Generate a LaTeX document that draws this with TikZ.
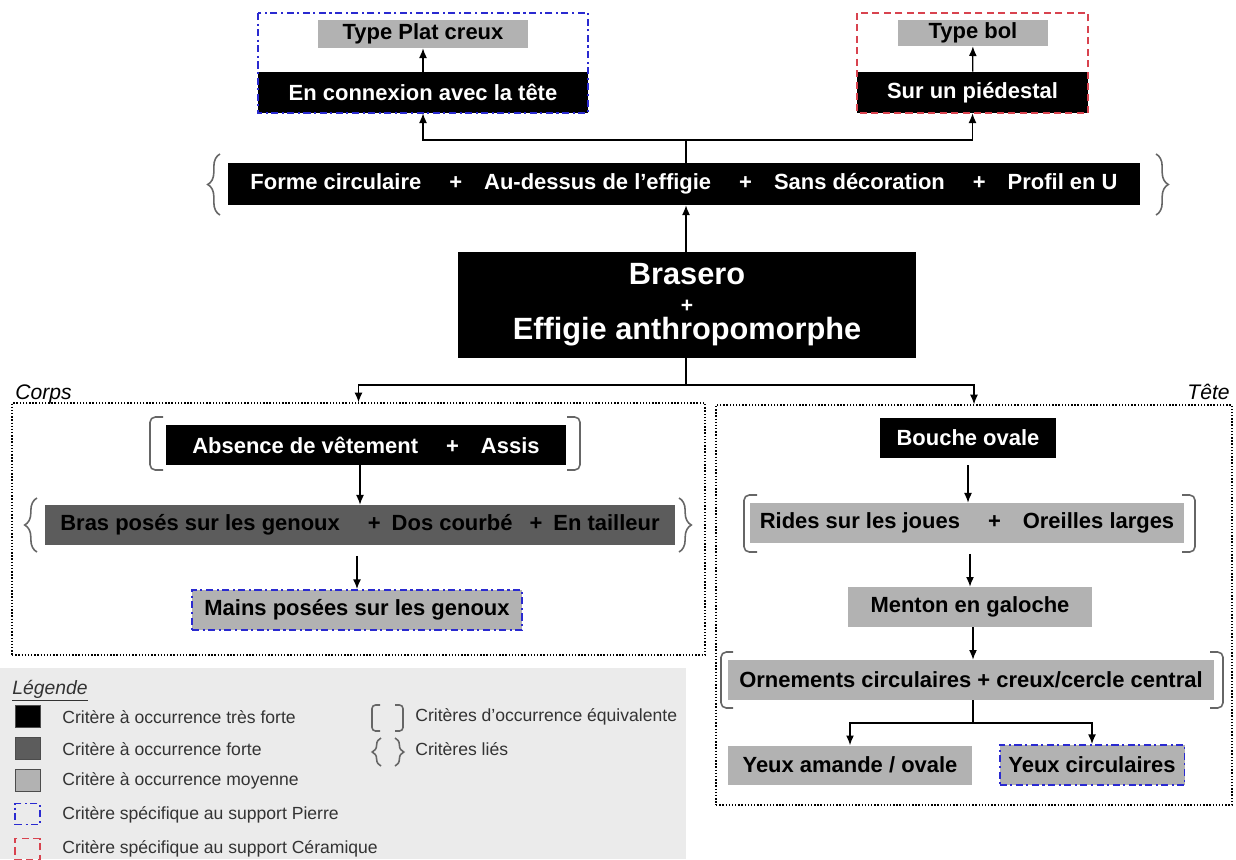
\documentclass[tikz,border=0pt]{standalone}
\usepackage{fontspec}
\setmainfont{Liberation Sans}
\usepackage{tikz}
\usetikzlibrary{arrows.meta,decorations.pathreplacing}

\definecolor{fortegris}{HTML}{5C5C5C}
\definecolor{moyengris}{HTML}{B2B2B2}
\definecolor{legendfond}{HTML}{EBEBEB}
\definecolor{pierrebleu}{HTML}{2A2AD0}
\definecolor{ceramrouge}{HTML}{D8434F}

\begin{document}
\begin{tikzpicture}[x=0.02cm,y=-0.02cm]

\tikzset{crit/.style = {shape=rectangle,inner sep=0pt,minimum height=0.8cm,font=\fontsize{12.5}{15}\selectfont\bfseries}}
\tikzset{tresforte/.style = {crit,fill=black,text=white}}
\tikzset{forte/.style = {crit,fill=fortegris,text=black}}
\tikzset{moyenne/.style = {crit,fill=moyengris,text=black}}
\tikzset{pierre/.style = {draw=pierrebleu,dash pattern=on 4pt off 2pt on 1.2pt off 2pt,line width=1.1pt}}
\tikzset{ceramique/.style = {draw=ceramrouge,dash pattern=on 4pt off 2.5pt,line width=1.1pt}}
\tikzset{zone/.style = {draw,densely dotted,line width=0.8pt,inner sep=0pt}}
\tikzset{crochet/.style = {draw=black!60,line width=0.9pt,rounded corners=3pt}}
\tikzset{accolade/.style = {draw=black!60,line width=0.9pt,decorate,decoration={brace,amplitude=7pt}}}
\tikzset{legtext/.style = {anchor=west,inner sep=0pt,font=\fontsize{10}{12}\selectfont,text=black!80}}
\tikzset{edge/.style = {->,> = {Latex[length=5.5pt,width=4.5pt]},line width=0.7pt}}

\useasboundingbox (0,0) rectangle (1236,859);

% legend background
\fill[legendfond] (0,668) rectangle (686,859);

% support frames
\node[zone,minimum width=13.86cm,minimum height=5.04cm] (corps) at (358.5,529) {};
\node[zone,minimum width=10.32cm,minimum height=8cm] (tete) at (974,605) {};
\node[anchor=base west,inner sep=0pt,font=\itshape\fontsize{12}{14}\selectfont] (corpslabel) at (15,399) {Corps};
\node[anchor=base east,inner sep=0pt,font=\itshape\fontsize{12}{14}\selectfont] (tetelabel) at (1230,399) {Tête};

% top criteria
\node[moyenne,minimum width=4.2cm,minimum height=0.56cm] (plat) at (423,34) {Type Plat creux};
\node[tresforte,minimum width=6.6cm,minimum height=0.82cm] (connexion) at (423,92.5) {En connexion avec la tête};
\draw[pierre] (258,13) rectangle (588,113);
\node[moyenne,minimum width=3cm,minimum height=0.52cm] (bol) at (973,33) {Type bol};
\node[tresforte,minimum width=4.62cm,minimum height=0.82cm] (piedestal) at (972.5,92.5) {Sur un piédestal};
\draw[ceramique] (857,13) rectangle (1088,113);

\node[tresforte,minimum width=18.24cm,minimum height=0.84cm] (criteres) at (684,184)
  {Forme circulaire \quad+\quad Au-dessus de l’effigie \quad+\quad Sans décoration \quad+\quad Profil en U};
\draw[accolade] (220,215) -- (220,154);
\draw[accolade] (1156,154) -- (1156,215);

\node[tresforte,minimum width=9.16cm,minimum height=2.12cm,align=center,font=\fontsize{17.5}{15.6}\selectfont\bfseries] (brasero) at (687,305)
  {Brasero\\{\fontsize{12}{12}\selectfont+}\\Effigie anthropomorphe};

% corps
\node[tresforte,minimum width=8cm] (absence) at (366,445) {Absence de vêtement \quad+\quad Assis};
\draw[crochet] (163,417) -- (150,417) -- (150,470) -- (163,470);
\draw[crochet] (567,417) -- (580,417) -- (580,470) -- (567,470);
\node[forte,minimum width=12.6cm] (genoux) at (360,525) {Bras posés sur les genoux \quad+\enspace Dos courbé \enspace+\enspace En tailleur};
\draw[accolade] (37,552) -- (37,498);
\draw[accolade] (679,498) -- (679,552);
\node[moyenne,pierre,minimum width=6.6cm] (mains) at (357,610) {Mains posées sur les genoux};

% tete
\node[tresforte,minimum width=3.52cm] (bouche) at (968,438) {Bouche ovale};
\node[moyenne,minimum width=8.7cm] (rides) at (967,523) {Rides sur les joues \quad+\quad Oreilles larges};
\draw[crochet] (757,495) -- (744,495) -- (744,552) -- (757,552);
\draw[crochet] (1182,495) -- (1195,495) -- (1195,552) -- (1182,552);
\node[moyenne,minimum width=4.88cm] (menton) at (970,607) {Menton en galoche};
\node[moyenne,minimum width=9.74cm] (ornements) at (971,680) {Ornements circulaires + creux/cercle central};
\draw[crochet] (733,652) -- (721,652) -- (721,708) -- (733,708);
\draw[crochet] (1210,652) -- (1223,652) -- (1223,708) -- (1210,708);
\node[moyenne,minimum width=4.88cm,minimum height=0.78cm] (amande) at (850,765) {Yeux amande / ovale};
\node[moyenne,pierre,minimum width=3.7cm] (circulaires) at (1092,765) {Yeux circulaires};

% edges
\coordinate (haut) at (686,140);
\coordinate (bas) at (686,385);
\coordinate (fourche) at (973,723);
\draw[edge] (connexion) -- (plat);
\draw[edge] (piedestal) -- (bol);
\draw[line width=0.7pt] (criteres.north -| haut) -- (haut);
\draw[edge] (haut) -| (connexion);
\draw[edge] (haut) -| (piedestal);
\draw[edge] (brasero.north -| haut) -- (criteres.south -| haut);
\draw[line width=0.7pt] (brasero.south -| bas) -- (bas);
\draw[edge] (bas) -| (corps);
\draw[edge] (bas) -| (tete);
\draw[edge] (absence.south -| genoux) -- (genoux);
\draw[edge,shorten <=6pt] (genoux.south -| mains) -- (mains);
\draw[edge,shorten <=4pt] (bouche.south -| bouche) -- (rides.north -| bouche);
\draw[edge,shorten <=6pt] (rides.south -| menton) -- (menton);
\draw[edge] (menton.south -| fourche) -- (ornements.north -| fourche);
\draw[line width=0.7pt] (ornements.south -| fourche) -- (fourche);
\draw[edge] (fourche) -| (amande);
\draw[edge] (fourche) -| (circulaires);

% legend
\node[anchor=base west,inner sep=0pt,font=\itshape\fontsize{11}{13}\selectfont,text=black!80] (legende) at (12,694) {\underline{Légende}};
\node[fill=black,draw=black!70,minimum width=0.5cm,minimum height=0.44cm] (ltresforte) at (27.5,716) {};
\node[fill=fortegris,draw=black!70,minimum width=0.5cm,minimum height=0.44cm] (lforte) at (27.5,748) {};
\node[fill=moyengris,draw=black!70,minimum width=0.5cm,minimum height=0.44cm] (lmoyenne) at (27.5,780) {};
\node[pierre,minimum width=0.5cm,minimum height=0.42cm] (lpierre) at (27.5,814) {};
\node[ceramique,minimum width=0.5cm,minimum height=0.42cm] (lceramique) at (27.5,849) {};
\node[legtext] (ttresforte) at (62,717) {Critère à occurrence très forte};
\node[legtext] (tforte) at (62,749) {Critère à occurrence forte};
\node[legtext] (tmoyenne) at (62,781) {Critère à occurrence moyenne};
\node[legtext] (tpierre) at (62,815) {Critère spécifique au support Pierre};
\node[legtext] (tceramique) at (62,849) {Critère spécifique au support Céramique};
\draw[crochet,rounded corners=2pt] (380,705) -- (372,705) -- (372,731) -- (380,731);
\draw[crochet,rounded corners=2pt] (395,705) -- (403,705) -- (403,731) -- (395,731);
\draw[accolade,decoration={brace,amplitude=5pt}] (381,766) -- (381,738);
\draw[accolade,decoration={brace,amplitude=5pt}] (395,738) -- (395,766);
\node[legtext] (tequivalente) at (415,717) {Critères d’occurrence équivalente};
\node[legtext] (tlies) at (415,749) {Critères liés};
\end{tikzpicture}
\end{document}
